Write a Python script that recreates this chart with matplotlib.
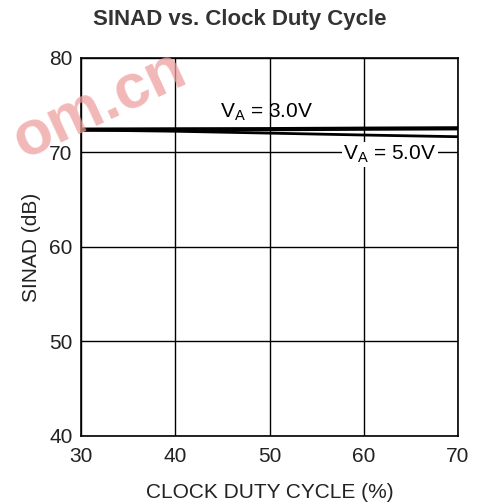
import matplotlib
matplotlib.use("Agg")
import matplotlib.pyplot as plt

plt.rcParams['font.family'] = ['Liberation Sans', 'DejaVu Sans']

# SINAD (dB) against clock duty cycle (%)
duty = [30, 40, 50, 60, 70]
sinad_3v0 = [72.42, 72.45, 72.47, 72.52, 72.56]
sinad_5v0 = [72.38, 72.25, 72.05, 71.85, 71.67]
x_ticks = [30, 40, 50, 60, 70]
y_ticks = [40, 50, 60, 70, 80]

fig = plt.figure(figsize=(4.8, 5.04), dpi=100)
ax = fig.add_axes([81 / 480, 1 - 436 / 504, 377 / 480, 378 / 504])

ax.plot(duty, sinad_5v0, color='black', lw=2.0, zorder=3)
ax.plot(duty, sinad_3v0, color='black', lw=3.0, zorder=3)

ax.set_xlim(30, 70)
ax.set_ylim(40, 80)
ax.set_xticks(x_ticks)
ax.set_yticks(y_ticks)
ax.tick_params(length=0, labelsize=15, colors='#222222')
ax.tick_params(axis='x', pad=8)
ax.tick_params(axis='y', pad=6)
ax.grid(True, color='black', lw=1.0)
for s in ax.spines.values():
    s.set_linewidth(1.2)

ax.set_xlabel('CLOCK DUTY CYCLE (%)', fontsize=15, labelpad=12, color='#222222')
ax.set_ylabel('SINAD (dB)', fontsize=15, labelpad=6, color='#222222')

ax.text(44.7, 74.3, r'V$_\mathregular{A}$ = 3.0V', fontsize=15, ha='left',
        va='center', zorder=4)
ax.text(57.8, 69.8, r'V$_\mathregular{A}$ = 5.0V', fontsize=15, ha='left',
        va='center', zorder=4,
        bbox=dict(facecolor='white', edgecolor='none', pad=1))

fig.text(0.5, 1 - 20 / 504, 'SINAD vs. Clock Duty Cycle', ha='center',
         va='center', fontsize=16, fontweight='bold', color='#333333')

# site watermark
fig.text(0.008, 0.79, 'om.cn', fontsize=45, fontweight='bold', color='#eea0a0',
         alpha=0.75, rotation=25, ha='left', va='center', zorder=10)

fig.savefig('out.png', dpi=100)
